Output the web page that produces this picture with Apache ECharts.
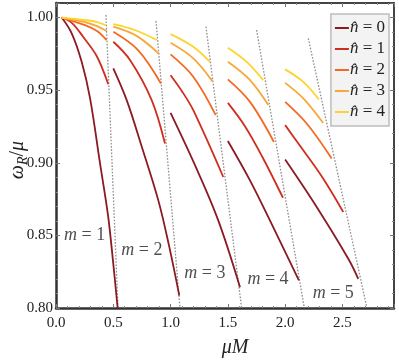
<!DOCTYPE html>
<html>
<head>
<meta charset="utf-8">
<script src="https://cdn.jsdelivr.net/npm/echarts@6/dist/echarts.min.js"></script>
<style>
  html, body { margin: 0; padding: 0; background: #fff; }
  #chart { width: 399px; height: 361px; }
</style>
</head>
<body>
<div id="chart"></div>
<script>
// curves: [muM, omega_R/mu], one list per n-hat (0..4)
const m1 = [
  [[0.05, 1.0], [0.137, 0.9891], [0.224, 0.9695], [0.297, 0.9445], [0.384, 0.8997], [0.454, 0.8638], [0.497, 0.8328], [0.538, 0.800]],
  [[0.05, 1.0], [0.140, 0.9962], [0.238, 0.9866], [0.355, 0.9735], [0.456, 0.9541]],
  [[0.05, 1.0], [0.253, 0.9948], [0.358, 0.9907], [0.441, 0.9845]],
  [[0.05, 1.0], [0.253, 0.9969], [0.358, 0.9941], [0.441, 0.9907]],
  [[0.05, 1.0], [0.253, 0.9983], [0.358, 0.9969], [0.432, 0.9948]]
];
const m2 = [
  [[0.5, 0.965], [0.617, 0.9431], [0.750, 0.9107], [0.893, 0.8741], [0.986, 0.8431], [1.076, 0.8086]],
  [[0.5, 0.9833], [0.646, 0.9707], [0.835, 0.9431], [0.951, 0.9132]],
  [[0.5, 0.9902], [0.716, 0.9776], [0.916, 0.9546]],
  [[0.5, 0.9937], [0.707, 0.9872], [0.901, 0.9748]],
  [[0.5, 0.9955], [0.689, 0.9914], [0.879, 0.9845]]
];
const m3 = [
  [[1.0, 0.9343], [1.213, 0.8983], [1.416, 0.8603], [1.606, 0.8143]],
  [[1.0, 0.9603], [1.099, 0.9493], [1.198, 0.9362], [1.460, 0.8902]],
  [[1.0, 0.9746], [1.198, 0.9592], [1.394, 0.9328]],
  [[1.0, 0.9826], [1.198, 0.9719], [1.364, 0.9562]],
  [[1.0, 0.9886], [1.198, 0.9799], [1.344, 0.9695]]
];
const m4 = [
  [[1.5, 0.915], [1.693, 0.8879], [1.867, 0.8603], [2.120, 0.819]],
  [[1.5, 0.9412], [1.649, 0.9252], [1.798, 0.9045], [1.981, 0.8759]],
  [[1.5, 0.9574], [1.693, 0.9419], [1.902, 0.9143]],
  [[1.5, 0.9695], [1.693, 0.9569], [1.853, 0.9397]],
  [[1.5, 0.9792], [1.664, 0.9695], [1.809, 0.9569]]
];
const m5 = [
  [[2.0, 0.9022], [2.260, 0.8714], [2.551, 0.8339], [2.638, 0.8201]],
  [[2.0, 0.9259], [2.158, 0.9086], [2.330, 0.8893], [2.507, 0.8661]],
  [[2.0, 0.9419], [2.188, 0.927], [2.406, 0.9029]],
  [[2.0, 0.955], [2.158, 0.9443], [2.332, 0.9274]],
  [[2.0, 0.9643], [2.158, 0.9557], [2.295, 0.9436]]
];
// dotted boundary lines, one per m
const edges = [
  [[0.436, 1.0017], [0.541, 0.80]],
  [[0.873, 0.9976], [1.082, 0.80]],
  [[1.309, 0.9937], [1.620, 0.80]],
  [[1.751, 0.9914], [2.167, 0.80]],
  [[2.202, 0.9857], [2.711, 0.801]]
];
// where the "m = k" labels sit
const mLabelX = [0.25, 0.75, 1.30, 1.85, 2.42];
const mLabelY = [0.85, 0.84, 0.824, 0.82, 0.81];
const mValues = [1, 2, 3, 4, 5];

const nNames = ['n0', 'n1', 'n2', 'n3', 'n4'];
const nColors = ['#8b1a22', '#cf2e1f', '#f26a22', '#f8a739', '#fcd42c'];
const serif = 'Liberation Serif';

const chart = echarts.init(document.getElementById('chart'));

const series = [];
[m1, m2, m3, m4, m5].forEach(group => {
  group.forEach((pts, n) => {
    series.push({
      name: nNames[n],
      type: 'line',
      data: pts,
      smooth: 0.35,
      symbol: 'none',
      lineStyle: { color: nColors[n], width: 1.8 },
      itemStyle: { color: nColors[n] },
      z: 3
    });
  });
});
edges.forEach(pts => {
  series.push({
    name: 'edge',
    type: 'line',
    data: pts,
    symbol: 'none',
    lineStyle: { color: '#8f8f8f', width: 1.3, type: [1.6, 1.6] },
    z: 2
  });
});
series.push({
  name: 'mlabel',
  type: 'scatter',
  symbolSize: 0,
  data: mLabelX.map((x, i) => [x, mLabelY[i]]),
  label: {
    show: true,
    position: 'inside',
    formatter: p => '{i|m} = ' + mValues[p.dataIndex],
    fontFamily: serif,
    fontSize: 18,
    color: '#222',
    rich: { i: { fontFamily: serif, fontStyle: 'italic', fontSize: 18, color: '#222' } }
  },
  z: 5
});

const tickStyle = { lineStyle: { color: '#777', width: 1 } };

const option = {
  animation: false,
  backgroundColor: '#fff',
  grid: { left: 56, right: 5, top: 3, bottom: 53, containLabel: false, outerBoundsMode: 'none' },
  legend: {
    data: nNames,
    orient: 'vertical',
    right: 10,
    top: 14,
    backgroundColor: '#f3f3f3',
    borderColor: '#bdbdbd',
    borderWidth: 1.5,
    padding: [4, 4, 4, 4],
    itemGap: 1,
    icon: 'rect',
    itemWidth: 14,
    itemHeight: 2,
    formatter: name => '{i|n\u0302} = ' + name.slice(1),
    textStyle: {
      fontFamily: serif, fontSize: 17, color: '#222', lineHeight: 20, padding: [0, 0, 0, -4],
      rich: { i: { fontFamily: serif, fontStyle: 'italic', fontSize: 17, color: '#222' } }
    }
  },
  // y axis title, rotated
  graphic: [{
    type: 'text',
    x: 18,
    y: 160,
    rotation: Math.PI / 2,
    style: {
      text: '{i|ω}{s|R}{n|/}{i|μ}',
      align: 'center',
      verticalAlign: 'middle',
      rich: {
        i: { fontFamily: serif, fontStyle: 'italic', fontSize: 20, fill: '#222' },
        s: { fontFamily: serif, fontStyle: 'italic', fontSize: 14, fill: '#222', padding: [10, 0, 0, 0] },
        n: { fontFamily: serif, fontSize: 20, fill: '#222' }
      }
    }
  }],
  xAxis: [
    {
      type: 'value', min: 0, max: 2.95, interval: 0.5,
      name: '{i|μM}', nameLocation: 'middle', nameGap: 30,
      nameTextStyle: { padding: [0, 0, 0, 20], rich: { i: { fontFamily: serif, fontStyle: 'italic', fontSize: 20, color: '#222' } } },
      axisLine: { show: true, onZero: false, lineStyle: { color: '#333', width: 2.5 } },
      axisTick: { show: true, inside: true, length: 4, ...tickStyle },
      minorTick: { show: true, splitNumber: 5, length: 2, lineStyle: { color: '#888' } },
      axisLabel: {
        showMaxLabel: false, margin: 8, fontFamily: serif, fontSize: 15, color: '#222',
        formatter: v => v.toFixed(1)
      },
      splitLine: { show: false }
    },
    {
      type: 'value', min: 0, max: 2.95, interval: 0.5, position: 'top',
      axisLine: { show: true, onZero: false, lineStyle: { color: '#444', width: 2 } },
      axisTick: { show: true, inside: true, length: 4, ...tickStyle },
      minorTick: { show: true, splitNumber: 5, length: 2, lineStyle: { color: '#888' } },
      axisLabel: { show: false },
      splitLine: { show: false }
    }
  ],
  yAxis: [
    {
      type: 'value', min: 0.8, max: 1.01, interval: 0.05,
      axisLine: { show: true, onZero: false, lineStyle: { color: '#333', width: 2.5 } },
      axisTick: { show: true, inside: true, length: 4, ...tickStyle },
      minorTick: { show: true, splitNumber: 5, length: 2, lineStyle: { color: '#888' } },
      axisLabel: {
        showMaxLabel: false, margin: 3, fontFamily: serif, fontSize: 15, color: '#222',
        formatter: v => v.toFixed(2)
      },
      splitLine: { show: false }
    },
    {
      type: 'value', min: 0.8, max: 1.01, interval: 0.05, position: 'right',
      axisLine: { show: true, onZero: false, lineStyle: { color: '#444', width: 2 } },
      axisTick: { show: true, inside: true, length: 4, ...tickStyle },
      minorTick: { show: true, splitNumber: 5, length: 2, lineStyle: { color: '#888' } },
      axisLabel: { show: false },
      splitLine: { show: false }
    }
  ],
  series: series
};

chart.setOption(option);
</script>
</body>
</html>
